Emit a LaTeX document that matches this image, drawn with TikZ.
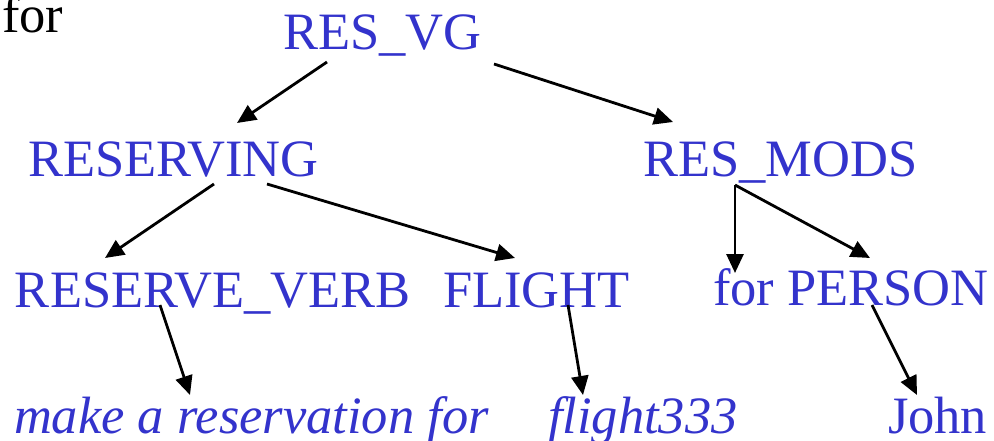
\documentclass[tikz,border=0pt]{standalone}
\usepackage{fontspec}
\setmainfont{Liberation Serif}
\usetikzlibrary{arrows.meta,calc}
\definecolor{treeblue}{RGB}{51,51,204}
\begin{document}
\begin{tikzpicture}[x=1pt,y=-1pt,
  lbl/.style={anchor=base west,inner sep=0pt,outer sep=0pt,text=treeblue,
    font=\fontsize{52.5}{60}\selectfont},
  word/.style={lbl,font=\fontsize{52.5}{60}\selectfont\itshape},
  edge/.style={draw=black,line width=2.8pt,
    -{Triangle[length=19pt,width=17pt]}}]
\useasboundingbox (0,0) rectangle (994,441);

% heading word
\node[lbl,text=black] (lead) at (2,33) {for};

% tree labels
\node[lbl] (vg)    at (283,50)  {RES\_VG};
\node[lbl] (resv)  at (28,177)  {RESERVING};
\node[lbl] (mods)  at (643,177) {RES\_MODS};
\node[lbl] (verb)  at (15,307)  {RESERVE\_VERB};
\node[lbl] (fl)    at (443,307) {FLIGHT};
\node[lbl] (forp)  at (713,305) {for PERSON};
\node[word] (make) at (14,433)  {make a reservation for};
\node[word] (f333) at (548,433) {flight333};
\node[lbl] (john)  at (888,433) {John};

% connectors
\draw[edge] ($(vg.base west)+(44,12)$)    -- ($(resv.base west)+(209,-54)$);
\draw[edge] ($(vg.base west)+(211,14)$)   -- ($(mods.base west)+(30,-55)$);
\draw[edge] ($(resv.base west)+(186,7)$)  -- ($(verb.base west)+(90,-49)$);
\draw[edge] ($(resv.base west)+(239,7)$)  -- ($(fl.base west)+(72,-49)$);
\draw[edge] ($(mods.base west)+(92,8)$)   -- ($(forp.base west)+(22,-32)$);
\draw[edge] ($(mods.base west)+(92,8)$)   -- ($(forp.base west)+(157,-47)$);
\draw[edge] ($(verb.base west)+(145,-2)$) -- ($(make.base west)+(176,-38)$);
\draw[edge] ($(fl.base west)+(125,-2)$)   -- ($(f333.base west)+(35,-38)$);
\draw[edge] ($(forp.base west)+(159,0)$)  -- ($(john.base west)+(29,-38)$);
\end{tikzpicture}
\end{document}
